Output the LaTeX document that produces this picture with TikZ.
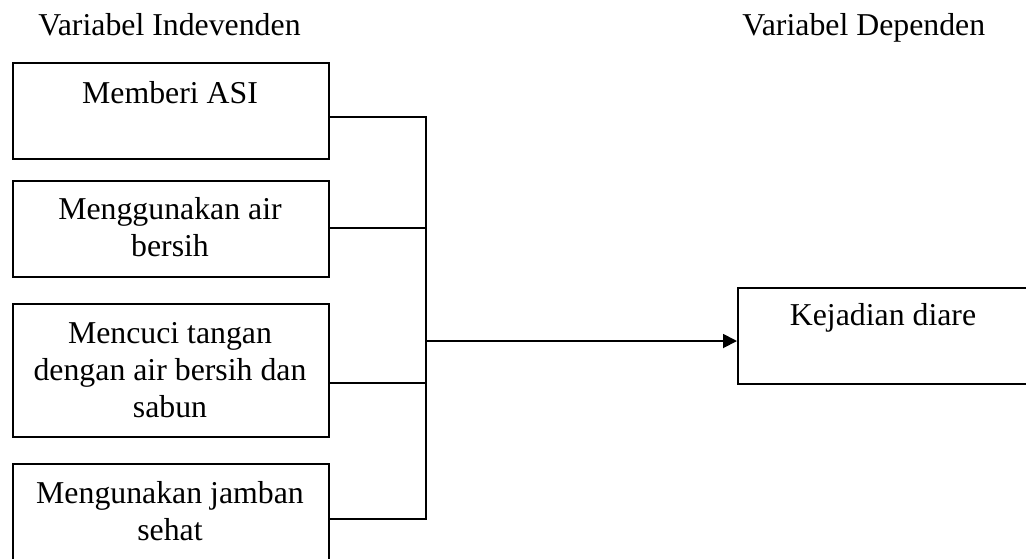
\documentclass[tikz,border=0pt]{standalone}
\usepackage{fontspec}
\setmainfont{Liberation Serif}
\usetikzlibrary{arrows.meta}
\begin{document}
\begin{tikzpicture}[x=0.5pt,y=-0.5pt,
  box/.style={draw, line width=0.9pt, inner sep=0pt, anchor=north west},
  lbl/.style={font=\fontsize{15.9pt}{18.4pt}\selectfont, align=center, inner sep=0pt, anchor=base},
  head/.style={font=\fontsize{15.9pt}{18.4pt}\selectfont, inner sep=0pt, anchor=base west},
  wire/.style={line width=0.9pt, line cap=rect}]
\useasboundingbox (0,0) rectangle (1026,558);
\begin{scope}
\clip (0,0) rectangle (1026,558);

% headings
\node[head] (h1) at (38,35) {Variabel Indevenden};
\node[head] (h2) at (742,35) {Variabel Dependen};

% independent variable boxes
\node[box, minimum width=158pt, minimum height=48pt] (b1) at (12,62) {};
\node[box, minimum width=158pt, minimum height=48pt] (b2) at (12,180) {};
\node[box, minimum width=158pt, minimum height=66.5pt] (b3) at (12,303) {};
\node[box, minimum width=158pt, minimum height=58pt] (b4) at (12,463) {};

% labels, placed on the baseline of their last line
\node[lbl] (t1) at (170,103) {Memberi ASI};
\node[lbl] (t2) at (170,256) {Menggunakan air\\bersih};
\node[lbl] (t3) at (170,417) {Mencuci tangan\\dengan air bersih dan\\sabun};
\node[lbl] (t4) at (170,540) {Mengunakan jamban\\sehat};

% dependent variable box
\node[box, minimum width=152pt, minimum height=48pt] (k) at (737,287) {};
\node[lbl] (tk) at (883,325) {Kejadian diare};

% junction points on the collecting line
\coordinate (j1) at (426,117);
\coordinate (j2) at (426,228);
\coordinate (j3) at (426,383);
\coordinate (j4) at (426,519);
\coordinate (jm) at (426,341);

\draw[wire] (b1.east |- j1) -- (j1) -- (j4);
\draw[wire] (b2.east |- j2) -- (j2);
\draw[wire] (b3.east |- j3) -- (j3);
\draw[wire] (b4.east |- j4) -- (j4);
\draw[wire, -{Triangle[length=7pt,width=7pt]}] (jm) -- (k.west |- jm);
\end{scope}
\end{tikzpicture}
\end{document}
